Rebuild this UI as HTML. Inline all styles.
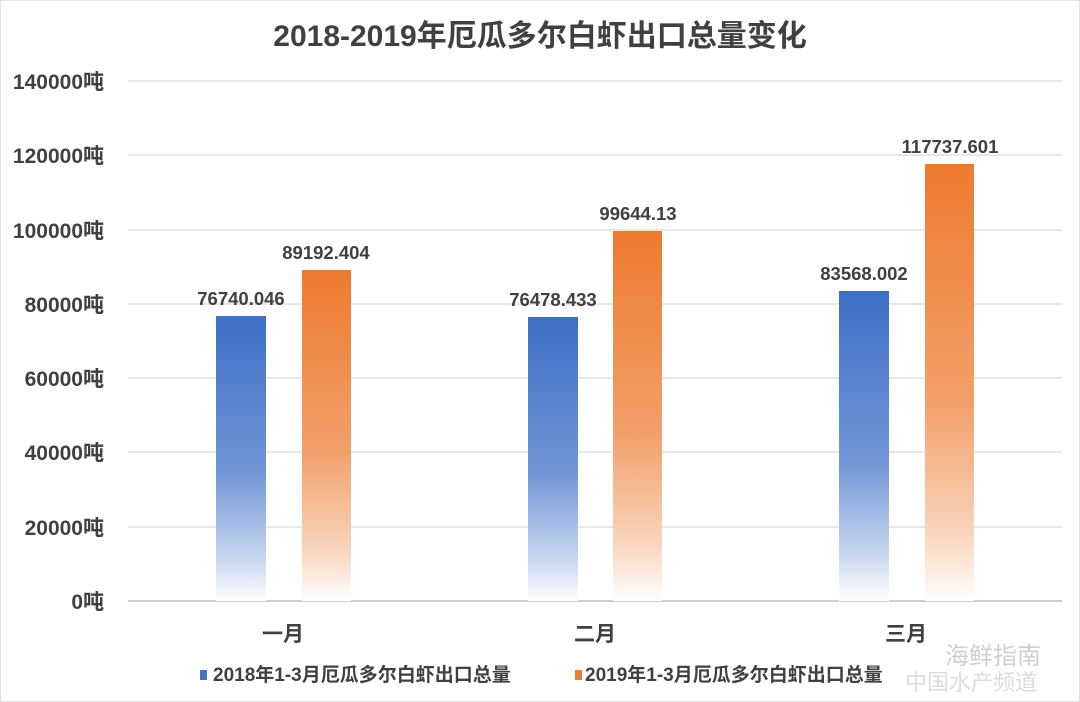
<!DOCTYPE html>
<html><head><meta charset="utf-8"><style>
html,body{margin:0;padding:0;background:#fff;}
svg{display:block;}
text{font-family:"Liberation Sans","Noto Sans CJK SC",sans-serif;font-weight:bold;fill:#404040;}
</style></head><body>
<svg width="1080" height="702" viewBox="0 0 1080 702" xmlns="http://www.w3.org/2000/svg">
<defs>
<linearGradient id="gb" x1="0" y1="0" x2="0" y2="1"><stop offset="0" stop-color="#3f6fc6"/><stop offset="0.55" stop-color="#7096d6"/><stop offset="0.85" stop-color="#c8d6f0"/><stop offset="1" stop-color="#ffffff"/></linearGradient>
<linearGradient id="go" x1="0" y1="0" x2="0" y2="1"><stop offset="0" stop-color="#ee7a2e"/><stop offset="0.55" stop-color="#f2a06a"/><stop offset="0.85" stop-color="#f9d6be"/><stop offset="1" stop-color="#ffffff"/></linearGradient>
</defs>
<rect x="0.5" y="0.5" width="1079" height="701" fill="#fff" stroke="#e4e4e4"/>
<text x="540" y="46" font-size="30" text-anchor="middle">2018-2019年厄瓜多尔白虾出口总量变化</text>
<g stroke="#e0e0e0" stroke-width="1.5">
<line x1="128" x2="1062" y1="81" y2="81"/><line x1="128" x2="1062" y1="155" y2="155"/><line x1="128" x2="1062" y1="230" y2="230"/><line x1="128" x2="1062" y1="304" y2="304"/><line x1="128" x2="1062" y1="378" y2="378"/><line x1="128" x2="1062" y1="452" y2="452"/><line x1="128" x2="1062" y1="527" y2="527"/>
</g>
<line x1="128" x2="1062" y1="601" y2="601" stroke="#d0d0d0" stroke-width="2"/>
<g font-size="21" text-anchor="end">
<text x="104" y="89">140000吨</text><text x="104" y="163">120000吨</text><text x="104" y="238">100000吨</text><text x="104" y="312">80000吨</text><text x="104" y="386">60000吨</text><text x="104" y="460">40000吨</text><text x="104" y="535">20000吨</text><text x="104" y="609">0吨</text>
</g>
<rect x="216" y="316" width="50" height="285" fill="url(#gb)"/>
<rect x="302" y="270" width="49" height="331" fill="url(#go)"/>
<rect x="528" y="317" width="50" height="284" fill="url(#gb)"/>
<rect x="613" y="231" width="49" height="370" fill="url(#go)"/>
<rect x="839" y="291" width="50" height="310" fill="url(#gb)"/>
<rect x="925" y="164" width="49" height="437" fill="url(#go)"/>
<g font-size="18.5" text-anchor="middle">
<text x="241" y="305">76740.046</text><text x="326" y="259">89192.404</text>
<text x="553" y="306">76478.433</text><text x="638" y="220">99644.13</text>
<text x="864" y="280">83568.002</text><text x="950" y="153">117737.601</text>
</g>
<g font-size="21" text-anchor="middle">
<text x="283" y="641">一月</text><text x="595" y="641">二月</text><text x="906" y="641">三月</text>
</g>
<rect x="200" y="670" width="7" height="10" fill="#4472c4"/>
<text x="213" y="681" font-size="19">2018年1-3月厄瓜多尔白虾出口总量</text>
<rect x="575" y="670" width="7" height="10" fill="#ed7d31"/>
<text x="585" y="681" font-size="19">2019年1-3月厄瓜多尔白虾出口总量</text>
<text x="945" y="664" font-size="24" style="fill:#d0d0d0;font-weight:normal">海鲜指南</text>
<text x="905" y="690" font-size="22" style="fill:#dcdcdc;font-weight:normal">中国水产频道</text>
</svg>
</body></html>
